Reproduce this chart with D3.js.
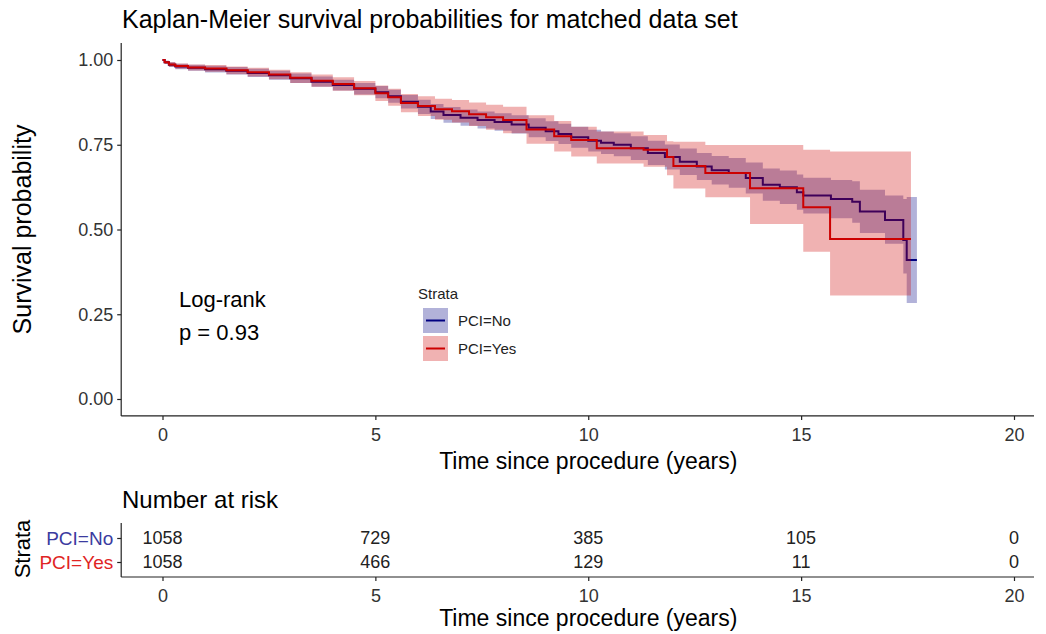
<!DOCTYPE html>
<html>
<head>
<meta charset="utf-8">
<script src="https://cdn.jsdelivr.net/npm/d3@7"></script>
<style>
  html, body { margin: 0; padding: 0; background: #fff; }
  svg { display: block; font-family: "Liberation Sans", Arial, sans-serif; }
</style>
</head>
<body>
<svg id="chart" width="1046" height="634"></svg>
<script>
// PCI=No (blue) survival, with 95% CI
const noTime = [0, 0.05, 0.15, 0.3, 0.6, 1.0, 1.5, 2.0, 2.5, 3.0, 3.5, 4.0, 4.5, 5.0, 5.3, 5.6, 6.0, 6.3, 6.6, 7.0,
  7.4, 7.8, 8.2, 8.6, 9.0, 9.3, 9.6, 10.0, 10.3, 10.6, 11.0, 11.4, 11.8, 12.15, 12.55, 12.9, 13.3, 13.7, 14.1, 14.5,
  14.9, 15.05, 15.7, 16.2, 16.38, 16.97, 17.4, 17.48, 17.72];
const noSurv = [1.000, 0.993, 0.986, 0.981, 0.977, 0.973, 0.968, 0.962, 0.955, 0.946, 0.936, 0.926, 0.915, 0.905, 0.893, 0.877, 0.862, 0.848, 0.838, 0.830,
  0.823, 0.817, 0.810, 0.800, 0.790, 0.782, 0.772, 0.762, 0.756, 0.750, 0.740, 0.726, 0.714, 0.700, 0.686, 0.675, 0.667, 0.652, 0.632, 0.625,
  0.610, 0.600, 0.590, 0.582, 0.553, 0.528, 0.469, 0.410, 0.410];
const noLower = [1.000, 0.988, 0.979, 0.973, 0.968, 0.963, 0.957, 0.950, 0.942, 0.932, 0.921, 0.910, 0.898, 0.887, 0.874, 0.857, 0.841, 0.826, 0.815, 0.806,
  0.798, 0.791, 0.783, 0.772, 0.761, 0.752, 0.741, 0.730, 0.723, 0.716, 0.705, 0.690, 0.677, 0.661, 0.646, 0.633, 0.623, 0.606, 0.585, 0.575,
  0.558, 0.547, 0.533, 0.520, 0.490, 0.458, 0.370, 0.283, 0.283];
const noUpper = [1.000, 0.998, 0.993, 0.989, 0.986, 0.983, 0.979, 0.974, 0.968, 0.960, 0.951, 0.942, 0.932, 0.923, 0.912, 0.897, 0.883, 0.870, 0.861, 0.854,
  0.848, 0.843, 0.837, 0.828, 0.819, 0.812, 0.803, 0.794, 0.789, 0.784, 0.775, 0.762, 0.751, 0.739, 0.726, 0.717, 0.711, 0.698, 0.680, 0.674,
  0.662, 0.653, 0.646, 0.642, 0.617, 0.600, 0.590, 0.596, 0.596];

// PCI=Yes (red) survival, with 95% CI
const yesTime = [0, 0.05, 0.15, 0.3, 0.6, 1.0, 1.5, 2.0, 2.5, 3.0, 3.5, 4.0, 4.5, 5.0, 5.3, 5.6, 6.0, 6.4, 6.8, 7.2,
  7.6, 8.0, 8.55, 9.2, 9.6, 10.2, 11.3, 11.85, 12.0, 12.75, 13.8, 15.05, 15.68, 17.58];
const yesSurv = [1.000, 0.993, 0.987, 0.982, 0.978, 0.975, 0.970, 0.964, 0.957, 0.948, 0.939, 0.929, 0.917, 0.902, 0.890, 0.873, 0.864, 0.855, 0.849, 0.840,
  0.831, 0.823, 0.795, 0.775, 0.764, 0.740, 0.735, 0.714, 0.687, 0.667, 0.622, 0.566, 0.472, 0.472];
const yesLower = [1.000, 0.988, 0.980, 0.974, 0.969, 0.965, 0.958, 0.951, 0.943, 0.932, 0.921, 0.909, 0.896, 0.879, 0.865, 0.846, 0.835, 0.824, 0.816, 0.805,
  0.794, 0.784, 0.753, 0.730, 0.715, 0.695, 0.685, 0.660, 0.621, 0.595, 0.516, 0.434, 0.305, 0.305];
const yesUpper = [1.000, 0.998, 0.994, 0.990, 0.987, 0.985, 0.981, 0.977, 0.971, 0.964, 0.957, 0.949, 0.938, 0.925, 0.915, 0.900, 0.893, 0.886, 0.882, 0.875,
  0.868, 0.862, 0.837, 0.820, 0.803, 0.789, 0.779, 0.760, 0.759, 0.749, 0.749, 0.735, 0.730, 0.730];

const strata = ["PCI=No", "PCI=Yes"];
const riskTimes = [0, 5, 10, 15, 20];
const riskNo = [1058, 729, 385, 105, 0];
const riskYes = [1058, 466, 129, 11, 0];
const xTicks = [0, 5, 10, 15, 20];
const yTicks = [0, 0.25, 0.5, 0.75, 1];

const blue = "#000080";
const red = "#cd0000";
const font = "Liberation Sans, Arial, sans-serif";

const svg = d3.select("#chart");

const x = d3.scaleLinear().domain([0, 20]).range([162.5, 1014]);
const y = d3.scaleLinear().domain([0, 1]).range([399, 60]);
const axisX = x(-0.97);
const axisEnd = 1034;

// title
svg.append("text").attr("x", 122).attr("y", 28)
  .attr("font-size", 25).attr("fill", "#000")
  .text("Kaplan-Meier survival probabilities for matched data set");

// bands + lines
const makeRows = (t, s, lo, hi) => t.map((d, i) => ({ t: d, s: s[i], lo: lo[i], hi: hi[i] }));
const noRows = makeRows(noTime, noSurv, noLower, noUpper);
const yesRows = makeRows(yesTime, yesSurv, yesLower, yesUpper);

const area = d3.area().curve(d3.curveStepAfter)
  .x((d) => x(d.t)).y0((d) => y(d.lo)).y1((d) => y(d.hi));
const line = d3.line().curve(d3.curveStepAfter)
  .x((d) => x(d.t)).y((d) => y(d.s));

const plot = svg.append("g");
plot.append("path").datum(noRows).attr("d", area).attr("fill", blue).attr("fill-opacity", 0.3);
plot.append("path").datum(noRows).attr("d", line).attr("fill", "none").attr("stroke", blue).attr("stroke-width", 2);
plot.append("path").datum(yesRows).attr("d", area).attr("fill", red).attr("fill-opacity", 0.3);
plot.append("path").datum(yesRows).attr("d", line).attr("fill", "none").attr("stroke", red).attr("stroke-width", 2);

// axes
const yAxis = svg.append("g").attr("transform", `translate(${axisX},0)`)
  .call(d3.axisLeft(y).tickValues(yTicks).tickFormat(d3.format(".2f")).tickSize(4).tickPadding(4).tickSizeOuter(0));
yAxis.select(".domain").remove();
yAxis.append("line").attr("y1", y(-0.05)).attr("y2", y(1.05)).attr("stroke", "#222").attr("stroke-width", 1.2);

const xAxis = svg.append("g").attr("transform", `translate(0,${y(-0.05)})`)
  .call(d3.axisBottom(x).tickValues(xTicks).tickSize(4).tickPadding(8).tickSizeOuter(0));
xAxis.select(".domain").remove();
xAxis.append("line").attr("x1", axisX).attr("x2", axisEnd).attr("stroke", "#222").attr("stroke-width", 1.2);

svg.selectAll(".tick line").attr("stroke", "#222").attr("stroke-width", 1.2);
svg.selectAll(".tick text").attr("font-size", 18).attr("fill", "#333").attr("font-family", font);

svg.append("text").attr("x", x(10)).attr("y", 469).attr("text-anchor", "middle")
  .attr("font-size", 23).text("Time since procedure (years)");
svg.append("text").attr("transform", `translate(31,${y(0.5)}) rotate(-90)`).attr("text-anchor", "middle")
  .attr("font-size", 25).text("Survival probability");

// log-rank annotation
svg.append("text").attr("x", 179).attr("y", 307).attr("font-size", 22).text("Log-rank");
svg.append("text").attr("x", 179).attr("y", 340).attr("font-size", 22).text("p = 0.93");

// legend
const legend = svg.append("g").attr("transform", "translate(418,0)");
legend.append("text").attr("x", 0).attr("y", 299).attr("font-size", 15).attr("fill", "#222").text("Strata");
[[blue, strata[0]], [red, strata[1]]].forEach(([c, label], i) => {
  const top = 308 + i * 28;
  legend.append("rect").attr("x", 5).attr("y", top).attr("width", 25).attr("height", 25)
    .attr("fill", c).attr("fill-opacity", 0.3);
  legend.append("line").attr("x1", 8).attr("x2", 27).attr("y1", top + 12.5).attr("y2", top + 12.5)
    .attr("stroke", c).attr("stroke-width", 2);
  legend.append("text").attr("x", 40).attr("y", top + 18).attr("font-size", 15).attr("fill", "#222").text(label);
});

// risk table
svg.append("text").attr("x", 122).attr("y", 508).attr("font-size", 24).text("Number at risk");

const yRisk = d3.scalePoint().domain(strata).range([538, 562]);
const rAxisY = svg.append("g").attr("transform", `translate(${axisX},0)`)
  .call(d3.axisLeft(yRisk).tickSize(4).tickPadding(4).tickSizeOuter(0));
rAxisY.select(".domain").remove();
rAxisY.append("line").attr("y1", 523).attr("y2", 577).attr("stroke", "#222").attr("stroke-width", 1.2);
rAxisY.selectAll(".tick line").attr("stroke", "#222").attr("stroke-width", 1.2);
rAxisY.selectAll(".tick text").attr("font-size", 19).attr("font-family", font)
  .attr("fill", (d) => (d === strata[0] ? "#3b3ba0" : "#e02424"));

const rAxisX = svg.append("g").attr("transform", "translate(0,577)")
  .call(d3.axisBottom(x).tickValues(xTicks).tickSize(4).tickPadding(8).tickSizeOuter(0));
rAxisX.select(".domain").remove();
rAxisX.append("line").attr("x1", axisX).attr("x2", axisEnd).attr("stroke", "#222").attr("stroke-width", 1.2);
rAxisX.selectAll(".tick line").attr("stroke", "#222").attr("stroke-width", 1.2);
rAxisX.selectAll(".tick text").attr("font-size", 18).attr("fill", "#333").attr("font-family", font);

[riskNo, riskYes].forEach((counts, i) => {
  svg.append("g").selectAll("text").data(counts).join("text")
    .attr("x", (d, j) => x(riskTimes[j])).attr("y", yRisk(strata[i]))
    .attr("dy", "0.35em").attr("text-anchor", "middle")
    .attr("font-size", 18).attr("fill", "#222").text((d) => d);
});

svg.append("text").attr("x", x(10)).attr("y", 626).attr("text-anchor", "middle")
  .attr("font-size", 23).text("Time since procedure (years)");
svg.append("text").attr("transform", `translate(30,549) rotate(-90)`).attr("text-anchor", "middle")
  .attr("font-size", 22).text("Strata");
</script>
</body>
</html>
